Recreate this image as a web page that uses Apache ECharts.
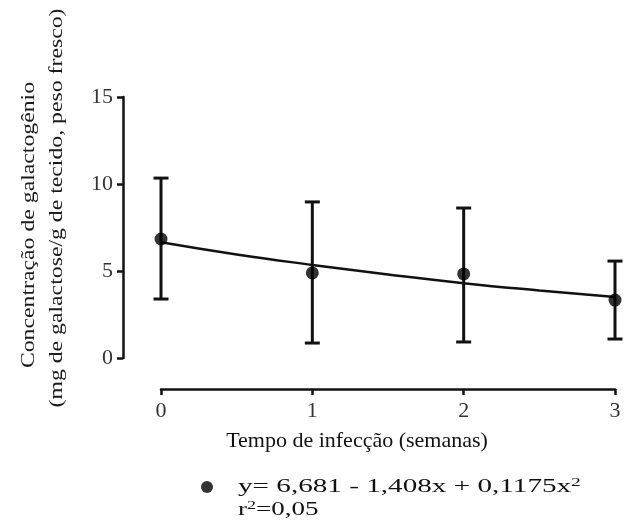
<!DOCTYPE html>
<html>
<head>
<meta charset="utf-8">
<script src="https://cdn.jsdelivr.net/npm/echarts@6/dist/echarts.min.js"></script>
<style>html,body{margin:0;padding:0;background:#fff;}#c{width:632px;height:529px;}</style>
</head>
<body>
<div id="c"></div>
<script>
// Data
const weeks = [0, 1, 2, 3];
const means = [6.84, 4.89, 4.83, 3.33];
const upper = [10.34, 8.97, 8.62, 5.57];
const lower = [3.39, 0.86, 0.92, 1.09];
const fitX = [0, 0.5, 1, 1.5, 2, 2.5, 3];
const fitY = [6.65, 5.95, 5.35, 4.8, 4.3, 3.88, 3.5];
const yTicks = [0, 5, 10, 15];
const xTitle = 'Tempo de infecção (semanas)';
const yTitle1 = 'Concentração de galactogênio';
const yTitle2 = '(mg de galactose/g de tecido, peso fresco)';
const eqText = 'y= 6,681 - 1,408x + 0,1175x';
const r2Pre = 'r';
const r2Post = '=0,05';
const seriesName = 'Média ± DP';

const FONT = '"Liberation Serif","Times New Roman",serif';
const chart = echarts.init(document.getElementById('c'), null, {renderer: 'canvas'});

const errData = weeks.map((w, i) => [w, lower[i], upper[i]]);
const richEq = {
  t: {fontFamily: FONT, fontSize: 18, fill: '#111', color: '#111'},
  s: {fontFamily: FONT, fontSize: 12, fill: '#111', color: '#111', verticalAlign: 'top', padding: [0, 0, 9, 0]}
};

chart.setOption({
  animation: false,
  backgroundColor: '#fff',
  grid: {left: 161, right: 17, top: 97, bottom: 171},
  xAxis: {
    type: 'value', min: 0, max: 3, interval: 1,
    offset: 31,
    axisLine: {show: true, onZero: false, lineStyle: {color: '#111', width: 2.5}},
    axisTick: {show: true, length: 6, lineStyle: {color: '#111', width: 2.5}},
    axisLabel: {fontFamily: FONT, fontSize: 22, color: '#333', margin: 11},
    splitLine: {show: false},
    name: xTitle, nameLocation: 'middle', nameGap: 41,
    nameTextStyle: {fontFamily: FONT, fontSize: 22, color: '#111', padding: [0, 62, 0, 0]}
  },
  yAxis: {
    type: 'value', min: 0, max: 15, interval: 5,
    offset: 38,
    axisLine: {show: true, onZero: false, lineStyle: {color: '#111', width: 2.5}},
    axisTick: {show: true, length: 6, lineStyle: {color: '#111', width: 2.5}},
    axisLabel: {fontFamily: FONT, fontSize: 22, color: '#333', margin: 10,
      formatter: v => yTicks.includes(v) ? String(v) : ''},
    splitLine: {show: false}
  },
  legend: {
    left: 196, top: 476, itemWidth: 12, itemHeight: 12, icon: 'circle',
    data: [seriesName],
    formatter: () => '',
    selectedMode: false
  },
  graphic: [
    {type: 'text', x: 29, y: 225, rotation: Math.PI / 2, scaleX: 1.25,
     style: {text: yTitle1, font: '19px ' + FONT, fill: '#1a1a1a', align: 'center', verticalAlign: 'middle'}},
    {type: 'text', x: 57, y: 208, rotation: Math.PI / 2, scaleX: 1.25,
     style: {text: yTitle2, font: '19px ' + FONT, fill: '#1a1a1a', align: 'center', verticalAlign: 'middle'}},
    {type: 'text', x: 238, y: 487, scaleX: 1.62,
     style: {text: '{t|' + eqText + '}{s|2}', rich: richEq, align: 'left', verticalAlign: 'middle'}},
    {type: 'text', x: 238, y: 510, scaleX: 1.5,
     style: {text: '{t|' + r2Pre + '}{s|2}{t|' + r2Post + '}', rich: richEq, align: 'left', verticalAlign: 'middle'}}
  ],
  series: [
    {
      type: 'custom', name: 'erro', silent: true,
      data: errData,
      renderItem: function (params, api) {
        const x = api.value(0);
        const lo = api.coord([x, api.value(1)]);
        const hi = api.coord([x, api.value(2)]);
        const cap = 7.5;
        const st = {stroke: '#111', lineWidth: 3};
        return {
          type: 'group',
          children: [
            {type: 'line', shape: {x1: lo[0], y1: lo[1], x2: hi[0], y2: hi[1]}, style: st},
            {type: 'line', shape: {x1: hi[0] - cap, y1: hi[1], x2: hi[0] + cap, y2: hi[1]}, style: st},
            {type: 'line', shape: {x1: lo[0] - cap, y1: lo[1], x2: lo[0] + cap, y2: lo[1]}, style: st}
          ]
        };
      },
      z: 2
    },
    {
      type: 'line', name: 'ajuste', smooth: true, showSymbol: false, silent: true,
      data: fitX.map((x, i) => [x, fitY[i]]),
      lineStyle: {color: '#111', width: 2.5},
      z: 3
    },
    {
      type: 'scatter', name: seriesName,
      data: weeks.map((w, i) => [w, means[i]]),
      symbol: 'circle', symbolSize: 13,
      itemStyle: {color: '#000'},
      z: 4
    }
  ]
});
</script>
</body>
</html>
